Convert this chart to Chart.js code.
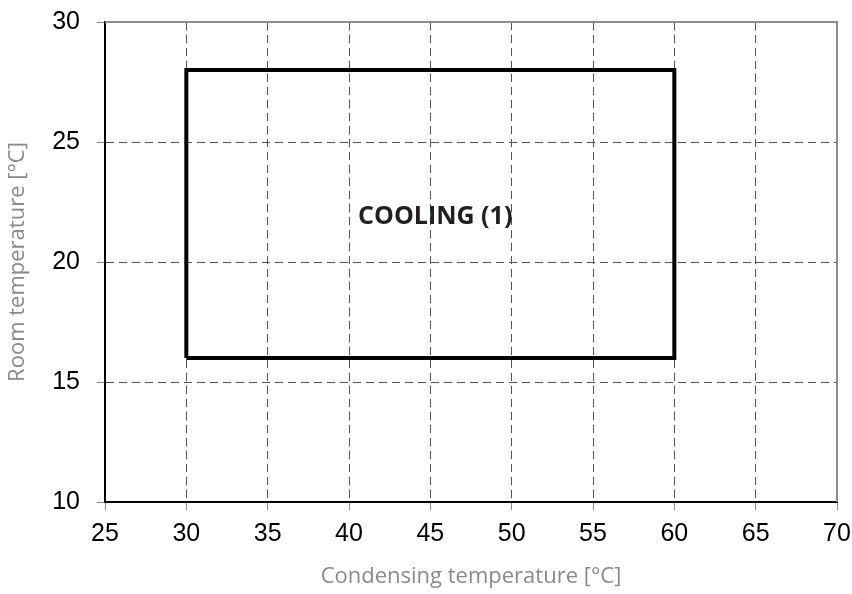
<!DOCTYPE html>
<html>
<head>
<meta charset="utf-8">
<script src="https://cdn.jsdelivr.net/npm/chart.js@4/dist/chart.umd.min.js"></script>
<style>
  html, body { margin: 0; padding: 0; background: #ffffff; }
  #chart { display: block; }
</style>
</head>
<body>
<canvas id="chart" width="852" height="594"></canvas>
<script>
// Operating envelope (corners of the cooling box)
const boxX = [30, 30, 60, 60, 30];
const boxY = [16, 28, 28, 16, 16];

// Axis ranges
const xRange = [25, 70];
const yRange = [10, 30];
const tickStep = 5;

// Zone label and where it sits (data units)
const zoneLabel = 'COOLING (1)';
const zoneLabelAt = [45.3, 21.9];

const xTitle = 'Condensing temperature [°C]';
const yTitle = 'Room temperature [°C]';

// Draw the gray frame on top/right and the zone label
const framePlugin = {
    id: 'frame',
    afterDatasetsDraw(chart) {
        const { ctx, chartArea, scales } = chart;
        ctx.save();
        ctx.strokeStyle = '#8c8c8c';
        ctx.lineWidth = 2;
        ctx.beginPath();
        ctx.moveTo(chartArea.left, chartArea.top);
        ctx.lineTo(chartArea.right, chartArea.top);
        ctx.lineTo(chartArea.right, chartArea.bottom);
        ctx.stroke();

        ctx.fillStyle = '#231f20';
        ctx.font = 'bold 25px "Open Sans"';
        ctx.textAlign = 'center';
        ctx.textBaseline = 'middle';
        ctx.fillText(zoneLabel, scales.x.getPixelForValue(zoneLabelAt[0]), scales.y.getPixelForValue(zoneLabelAt[1]));
        ctx.restore();
    }
};

const tickFont = { family: '"Liberation Sans", Arial, sans-serif', size: 25 };
const titleFont = { family: '"Open Sans", sans-serif', size: 22 };

new Chart(document.getElementById('chart'), {
    type: 'scatter',
    data: {
        datasets: [{
            data: boxX.map((x, i) => ({ x: x, y: boxY[i] })),
            showLine: true,
            borderColor: '#000000',
            borderWidth: 4,
            borderJoinStyle: 'miter',
            pointRadius: 0,
            tension: 0
        }]
    },
    options: {
        responsive: false,
        animation: false,
        layout: { padding: { top: 22, right: 15, left: 0, bottom: 0 } },
        plugins: {
            legend: { display: false },
            tooltip: { enabled: false }
        },
        scales: {
            x: {
                type: 'linear',
                min: xRange[0],
                max: xRange[1],
                afterFit(scale) {
                    scale.height = 92;
                    scale.paddingLeft = 0;
                    scale.paddingRight = 0;
                },
                ticks: {
                    stepSize: tickStep,
                    color: '#000000',
                    font: tickFont,
                    padding: 9,
                    maxRotation: 0
                },
                grid: {
                    color: '#555555',
                    lineWidth: 1,
                    tickColor: '#8c8c8c',
                    tickLength: 8
                },
                border: { color: '#000000', width: 2, dash: [8, 5] },
                title: {
                    display: true,
                    text: xTitle,
                    color: '#8a8a8a',
                    font: titleFont,
                    padding: { top: 0, bottom: 4 }
                }
            },
            y: {
                type: 'linear',
                min: yRange[0],
                max: yRange[1],
                afterFit(scale) {
                    scale.width = 105;
                    scale.paddingTop = 0;
                    scale.paddingBottom = 0;
                },
                ticks: {
                    stepSize: tickStep,
                    color: '#000000',
                    font: tickFont,
                    padding: 17
                },
                grid: {
                    color: '#555555',
                    lineWidth: 1,
                    tickColor: '#8c8c8c',
                    tickLength: 8
                },
                border: { color: '#000000', width: 2, dash: [8, 5] },
                title: {
                    display: true,
                    text: yTitle,
                    color: '#8a8a8a',
                    font: titleFont,
                    padding: { top: 5, bottom: 0 }
                }
            }
        }
    },
    plugins: [framePlugin]
});
</script>
</body>
</html>
